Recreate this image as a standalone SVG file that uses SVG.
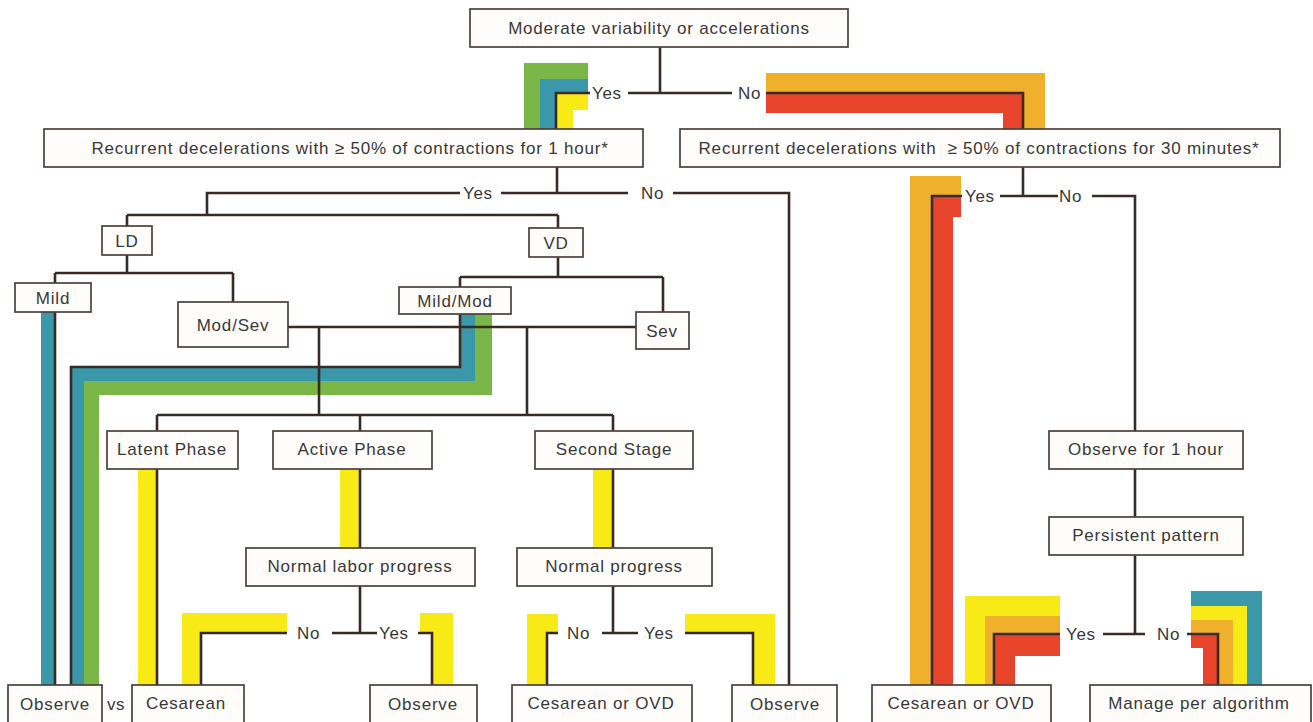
<svg xmlns="http://www.w3.org/2000/svg" width="1313" height="722" viewBox="0 0 1313 722">
<style>
.bg{fill:#ffffff}
.box{fill:#fffdfc;stroke:#4e403b;stroke-width:1.7}
.t{font-family:"Liberation Sans",Arial,sans-serif;font-size:17px;fill:#383838;text-anchor:middle;letter-spacing:0.8px}
.lbl{font-family:"Liberation Sans",Arial,sans-serif;font-size:17px;fill:#383838;text-anchor:start;letter-spacing:0.6px}
.ln{fill:none;stroke:#3a2a25;stroke-width:2.6;stroke-linejoin:miter;stroke-linecap:butt}
.g{fill:#7ab648}
.b{fill:#3a98aa}
.y{fill:#f7ea16}
.o{fill:#efb02b}
.r{fill:#e8442b}
</style>
<rect class="bg" x="0" y="0" width="1313" height="722"/>

<g id="bands">
  <polygon class="g" points="524,63 588,63 588,79 540,79 540,129 524,129"/>
  <polygon class="b" points="540,79 588,79 588,93 556,93 556,129 540,129"/>
  <polygon class="y" points="556,93 588,93 588,110 573,110 573,129 556,129"/>
  <polygon class="o" points="766,73 1045,73 1045,129 1023,129 1023,93 766,93"/>
  <polygon class="r" points="766,93 1023,93 1023,129 1003,129 1003,113 766,113"/>
  <polygon class="o" points="910,176 961,176 961,196 932,196 932,685 910,685"/>
  <polygon class="r" points="932,196 961,196 961,217 953,217 953,685 932,685"/>
  <polygon class="b" points="41,312 55,312 55,685 41,685"/>
  <polygon class="b" points="460,314 475,314 475,381 84,381 84,685 71,685 71,367 460,367"/>
  <polygon class="g" points="475,314 492,314 492,395 99,395 99,685 84,685 84,381 475,381"/>
  <polygon class="y" points="138,469 157,469 157,685 138,685"/>
  <polygon class="y" points="340,469 360,469 360,548 340,548"/>
  <polygon class="y" points="593,469 613,469 613,548 593,548"/>
  <polygon class="y" points="182,613 287,613 287,633 201,633 201,685 182,685"/>
  <polygon class="y" points="420,613 453,613 453,685 432,685 432,633 420,633"/>
  <polygon class="y" points="527,614 558,614 558,633 547,633 547,685 527,685"/>
  <polygon class="y" points="685,614 775,614 775,685 753,685 753,633 685,633"/>
  <polygon class="y" points="965,596 1060,596 1060,616 985,616 985,685 965,685"/>
  <polygon class="o" points="985,616 1060,616 1060,634 994,634 994,685 985,685"/>
  <polygon class="r" points="994,634 1060,634 1060,656 1015,656 1015,685 994,685"/>
  <polygon class="b" points="1191,591 1262,591 1262,685 1247,685 1247,606 1191,606"/>
  <polygon class="y" points="1191,606 1247,606 1247,685 1233,685 1233,620 1191,620"/>
  <polygon class="o" points="1191,620 1233,620 1233,685 1218,685 1218,634 1191,634"/>
  <polygon class="r" points="1191,634 1218,634 1218,685 1203,685 1203,648 1191,648"/>
</g>

<g id="connectors">
  <path class="ln" d="M660,47 V93 M628,93 H732 M590,93 H556 V129 M766,93 H1023 V129"/>
  <path class="ln" d="M557,167 V193 M501,193 H628 M460,193 H207 V215 M127,215 H558 M127,215 V226 M558,215 V228 M673,193 H789 V685"/>
  <path class="ln" d="M127,255 V273 M55,273 H233 M55,273 V283 M233,273 V302 M55,312 V685"/>
  <path class="ln" d="M558,257 V277 M460,277 H663 M460,277 V287 M663,277 V312"/>
  <path class="ln" d="M288,327 H636 M319,327 V415 M527,327 V415 M460,314 V367 H71 V685"/>
  <path class="ln" d="M157,415 H613 M157,415 V431 M360,415 V431 M613,415 V431 M157,469 V685"/>
  <path class="ln" d="M360,469 V548 M360,586 V633 M332,633 H377 M287,633 H201 V685 M418,633 H432 V685"/>
  <path class="ln" d="M613,469 V548 M613,586 V633 M602,633 H638 M558,633 H547 V685 M685,633 H753 V685"/>
  <path class="ln" d="M1023,167 V196 M1000,196 H1058 M962,196 H932 V685 M1092,196 H1135 V431 M1135,469 V517 M1135,555 V634 M1103,634 H1145 M1060,634 H994 V685 M1187,634 H1218 V685"/>
</g>

<g id="labels">
  <text class="lbl" x="592" y="99">Yes</text>
  <text class="lbl" x="738" y="99">No</text>
  <text class="lbl" x="463" y="199">Yes</text>
  <text class="lbl" x="641" y="199">No</text>
  <text class="lbl" x="965" y="202">Yes</text>
  <text class="lbl" x="1059" y="202">No</text>
  <text class="lbl" x="297" y="639">No</text>
  <text class="lbl" x="379" y="639">Yes</text>
  <text class="lbl" x="567" y="639">No</text>
  <text class="lbl" x="644" y="639">Yes</text>
  <text class="lbl" x="1066" y="640">Yes</text>
  <text class="lbl" x="1157" y="640">No</text>
  <text class="lbl" x="107" y="710">vs</text>
</g>

<g id="n-moderate"><rect class="box" x="470" y="9" width="378" height="38"/><text class="t" x="659" y="34">Moderate variability or accelerations</text></g>
<g id="n-rec1h"><rect class="box" x="44" y="129" width="599" height="38"/><text class="t" x="350" y="154">Recurrent decelerations with ≥ 50% of contractions for 1 hour*</text></g>
<g id="n-rec30"><rect class="box" x="680" y="129" width="600" height="38"/><text class="t" x="979" y="154" style="white-space:pre">Recurrent decelerations with  ≥ 50% of contractions for 30 minutes*</text></g>
<g id="n-ld"><rect class="box" x="102" y="226" width="50" height="29"/><text class="t" x="127" y="247">LD</text></g>
<g id="n-vd"><rect class="box" x="529" y="228" width="54" height="29"/><text class="t" x="556" y="249">VD</text></g>
<g id="n-mild"><rect class="box" x="15" y="283" width="76" height="29"/><text class="t" x="53" y="304">Mild</text></g>
<g id="n-modsev"><rect class="box" x="178" y="302" width="110" height="45"/><text class="t" x="233" y="331">Mod/Sev</text></g>
<g id="n-mildmod"><rect class="box" x="399" y="287" width="112" height="27"/><text class="t" x="455" y="307">Mild/Mod</text></g>
<g id="n-sev"><rect class="box" x="636" y="312" width="53" height="37"/><text class="t" x="662" y="337">Sev</text></g>
<g id="n-latent"><rect class="box" x="107" y="431" width="131" height="38"/><text class="t" x="172" y="455">Latent Phase</text></g>
<g id="n-active"><rect class="box" x="273" y="431" width="159" height="38"/><text class="t" x="352" y="455">Active Phase</text></g>
<g id="n-second"><rect class="box" x="535" y="431" width="158" height="38"/><text class="t" x="614" y="455">Second Stage</text></g>
<g id="n-obs1h"><rect class="box" x="1049" y="431" width="194" height="38"/><text class="t" x="1146" y="455">Observe for 1 hour</text></g>
<g id="n-normlabor"><rect class="box" x="246" y="548" width="229" height="38"/><text class="t" x="360" y="572">Normal labor progress</text></g>
<g id="n-normprog"><rect class="box" x="517" y="548" width="195" height="38"/><text class="t" x="614" y="572">Normal progress</text></g>
<g id="n-persist"><rect class="box" x="1049" y="517" width="194" height="38"/><text class="t" x="1146" y="541">Persistent pattern</text></g>
<g id="n-obs-a"><rect class="box" x="8" y="685" width="94" height="40"/><text class="t" x="55" y="710">Observe</text></g>
<g id="n-ces-a"><rect class="box" x="132" y="685" width="112" height="40"/><text class="t" x="186" y="709">Cesarean</text></g>
<g id="n-obs-b"><rect class="box" x="370" y="685" width="107" height="40"/><text class="t" x="423" y="710">Observe</text></g>
<g id="n-ces-b"><rect class="box" x="512" y="685" width="180" height="40"/><text class="t" x="601" y="709">Cesarean or OVD</text></g>
<g id="n-obs-c"><rect class="box" x="732" y="685" width="105" height="40"/><text class="t" x="785" y="710">Observe</text></g>
<g id="n-ces-c"><rect class="box" x="872" y="685" width="179" height="40"/><text class="t" x="961" y="709">Cesarean or OVD</text></g>
<g id="n-manage"><rect class="box" x="1090" y="685" width="221" height="40"/><text class="t" x="1199" y="709">Manage per algorithm</text></g>
</svg>
